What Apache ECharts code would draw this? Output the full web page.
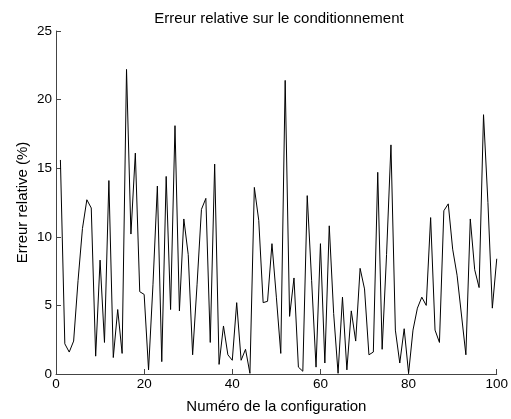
<!DOCTYPE html>
<html>
<head>
<meta charset="utf-8">
<script src="https://cdn.jsdelivr.net/npm/echarts@6/dist/echarts.min.js"></script>
<style>
  html, body { margin: 0; padding: 0; background: #fff; }
  #chart { width: 511px; height: 419px; }
</style>
</head>
<body>
<div id="chart"></div>
<script>
// Configuration numbers 1..100 and the relative conditioning error (%) for each
const configNumbers = [];
for (let i = 1; i <= 100; i++) configNumbers.push(i);

const relativeError = [
  15.6, 2.2, 1.6, 2.4, 6.8, 10.6, 12.7, 12.1, 1.3, 8.3,
  2.3, 14.1, 1.2, 4.7, 1.5, 22.2, 10.2, 16.1, 6.0, 5.8,
  0.3, 6.5, 13.7, 0.9, 14.4, 4.7, 18.1, 4.6, 11.3, 8.7,
  1.4, 6.5, 12.0, 12.8, 2.3, 15.3, 0.7, 3.5, 1.4, 1.0,
  5.2, 1.0, 1.8, 0.05, 13.6, 11.2, 5.2, 5.3, 9.5, 5.6,
  1.5, 21.4, 4.2, 7.0, 0.5, 0.2, 13.0, 6.8, 0.5, 9.5,
  0.8, 10.8, 4.4, 0.05, 5.6, 0.3, 4.6, 2.4, 7.7, 6.2,
  1.4, 1.6, 14.7, 1.8, 8.7, 16.7, 3.2, 0.8, 3.3, 0.05,
  3.2, 4.8, 5.6, 5.0, 11.4, 3.2, 2.3, 11.9, 12.4, 9.1,
  7.2, 4.3, 1.4, 11.3, 7.6, 6.3, 18.9, 12.5, 4.8, 8.4
];

const xTicks = [0, 20, 40, 60, 80, 100];
const yTicks = [0, 5, 10, 15, 20, 25];

const titleText = 'Erreur relative sur le conditionnement';
const xLabel = 'Numéro de la configuration';
const yLabel = 'Erreur relative (%)';

const points = configNumbers.map((n, k) => [n, relativeError[k]]);

const font = 'Liberation Sans, Arial, Helvetica, sans-serif';
const axisColor = '#444';

const chart = echarts.init(document.getElementById('chart'), null, { renderer: 'canvas' });
chart.setOption({
  animation: false,
  backgroundColor: '#fff',
  title: {
    text: titleText,
    left: 274,
    textAlign: 'center',
    top: 6,
    textStyle: { fontFamily: font, fontSize: 15, fontWeight: 'normal', color: '#000' }
  },
  grid: { left: 56, right: 14, top: 31, bottom: 40, containLabel: false },
  xAxis: {
    type: 'value',
    min: xTicks[0],
    max: xTicks[xTicks.length - 1],
    interval: xTicks[1] - xTicks[0],
    name: xLabel,
    nameLocation: 'middle',
    nameGap: 25,
    nameMoveOverlap: false,
    nameTextStyle: { fontFamily: font, fontSize: 15, color: '#000' },
    axisLine: { onZero: false, lineStyle: { color: axisColor, width: 1 } },
    axisTick: { inside: true, length: 5, lineStyle: { color: axisColor } },
    axisLabel: { fontFamily: font, fontSize: 13.5, color: '#000', margin: 3 },
    splitLine: { show: false }
  },
  yAxis: {
    type: 'value',
    min: yTicks[0],
    max: yTicks[yTicks.length - 1],
    interval: yTicks[1] - yTicks[0],
    name: yLabel,
    nameLocation: 'middle',
    nameRotate: 90,
    nameGap: 26,
    nameMoveOverlap: false,
    nameTextStyle: { fontFamily: font, fontSize: 15, color: '#000' },
    axisLine: { show: true, lineStyle: { color: axisColor, width: 1 } },
    axisTick: { show: true, inside: true, length: 5, lineStyle: { color: axisColor } },
    axisLabel: { fontFamily: font, fontSize: 13.5, color: '#000', margin: 4 },
    splitLine: { show: false }
  },
  series: [{
    type: 'line',
    data: points,
    showSymbol: false,
    symbol: 'none',
    lineStyle: { color: '#000', width: 1 },
    silent: true
  }]
});
</script>
</body>
</html>
